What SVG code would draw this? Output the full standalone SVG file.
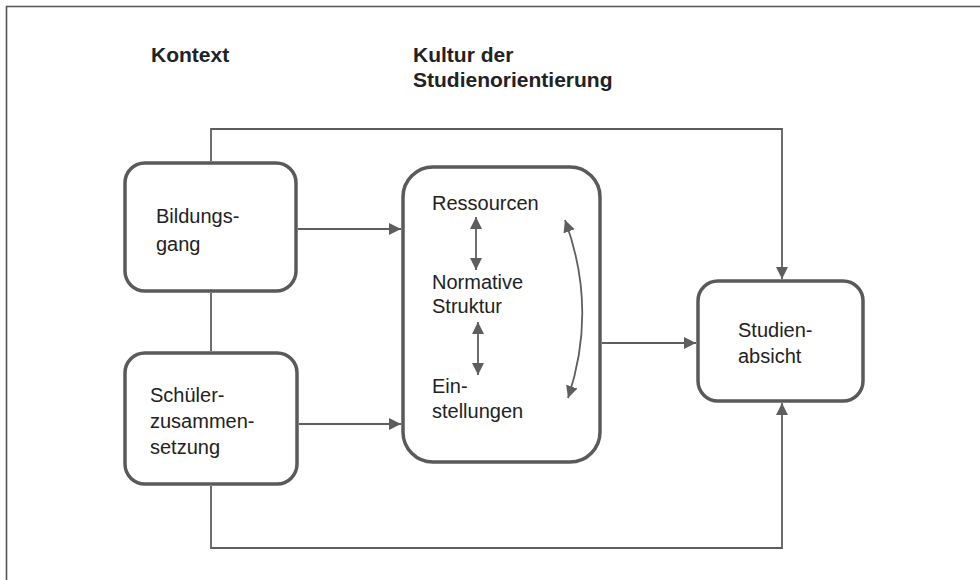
<svg xmlns="http://www.w3.org/2000/svg" width="980" height="580" viewBox="0 0 980 580">
<style>
.box{fill:#fff;stroke:#5a5a5a;stroke-width:3.5}
.con{fill:none;stroke:#5e5e5e;stroke-width:1.8}
.t{font-family:"Liberation Sans",Arial,sans-serif;font-size:20px;fill:#222}
.h{font-family:"Liberation Sans",Arial,sans-serif;font-size:21px;font-weight:bold;fill:#222}
.frame{stroke:#555;stroke-width:1.6;fill:none}
</style>
<defs>
<marker id="ah" viewBox="0 0 10 10" refX="10" refY="5" markerUnits="userSpaceOnUse" markerWidth="12" markerHeight="12" orient="auto-start-reverse">
<path d="M0,0 L10,5 L0,10 z" fill="#5e5e5e"/>
</marker>
</defs>
<rect width="980" height="580" fill="#fff"/>
<path class="frame" d="M6.5,580 V6.5 H980"/>
<text class="h" x="151" y="62">Kontext</text>
<text class="h" x="413" y="62">Kultur der</text>
<text class="h" x="413" y="87">Studienorientierung</text>
<g id="bildungsgang">
<rect class="box" x="125" y="163" width="171" height="128" rx="20"/>
<text class="t" x="156" y="223">Bildungs-</text>
<text class="t" x="156" y="251">gang</text>
</g>
<g id="schueler">
<rect class="box" x="125" y="353" width="172" height="131" rx="20"/>
<text class="t" x="150" y="402">Schüler-</text>
<text class="t" x="150" y="428">zusammen-</text>
<text class="t" x="150" y="454">setzung</text>
</g>
<g id="kultur">
<rect class="box" x="403" y="167" width="197" height="295" rx="30"/>
<text class="t" x="432" y="210">Ressourcen</text>
<text class="t" x="432" y="289">Normative</text>
<text class="t" x="432" y="313">Struktur</text>
<text class="t" x="432" y="393">Ein-</text>
<text class="t" x="432" y="418">stellungen</text>
</g>
<g id="studienabsicht">
<rect class="box" x="698" y="281" width="165" height="120" rx="20"/>
<text class="t" x="738" y="337">Studien-</text>
<text class="t" x="738" y="363">absicht</text>
</g>
<g id="connectors">
<path class="con" d="M211,161 V129 H782 V279" marker-end="url(#ah)"/>
<path class="con" d="M211,293 V351"/>
<path class="con" d="M211,486 V548 H782 V403" marker-end="url(#ah)"/>
<path class="con" d="M298,229 H401" marker-end="url(#ah)"/>
<path class="con" d="M299,424 H401" marker-end="url(#ah)"/>
<path class="con" d="M602,343 H696" marker-end="url(#ah)"/>
<path class="con" d="M476,217 V270" marker-start="url(#ah)" marker-end="url(#ah)"/>
<path class="con" d="M478,322 V375" marker-start="url(#ah)" marker-end="url(#ah)"/>
<path class="con" d="M565,220 Q598,309 568,398" marker-start="url(#ah)" marker-end="url(#ah)"/>
</g>
</svg>
